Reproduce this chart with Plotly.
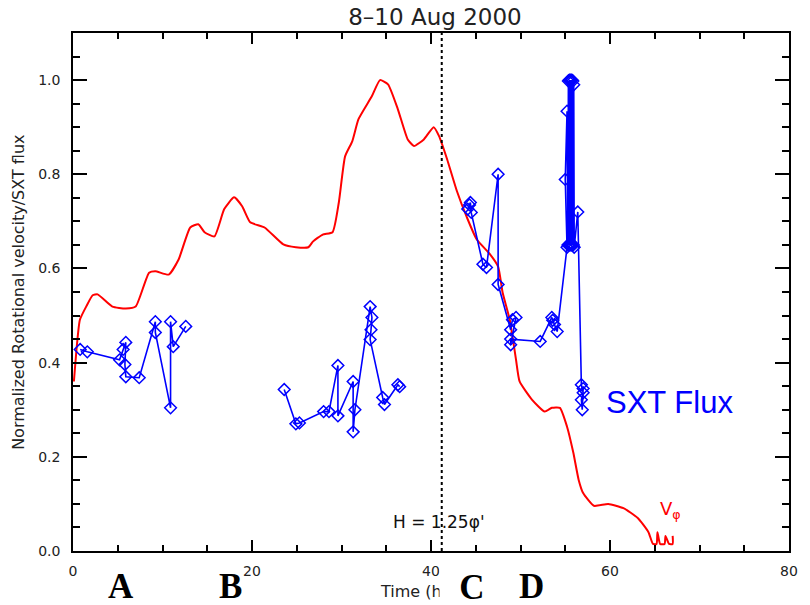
import plotly.graph_objects as go

# ---------------- data ----------------
# Normalized rotational velocity (V_phi), red curve
vphi_t = [0.1, 0.44, 0.77, 1.5, 2.2, 2.75, 4.4, 5.9, 7.0, 8.5, 9.2, 10.7, 11.8, 13.1, 14.0, 14.7,
          15.8, 16.9, 18.0, 18.9, 19.8, 21.4, 23.5, 24.9, 26.3, 26.8, 27.9, 29.0, 29.7, 30.4, 31.2,
          31.9, 33.4, 34.3, 35.2, 36.3, 37.4, 38.1, 39.2, 40.3, 40.9, 41.8, 42.9, 44.0, 45.1, 46.6,
          47.5, 48.0, 48.8, 49.5, 49.9, 51.3, 52.7, 53.5, 54.4, 55.2, 55.9, 56.5, 57.0, 58.2, 59.8,
          61.5, 63.1, 64.3, 64.8, 65.2, 65.3, 65.6, 66.1, 66.2, 66.6, 67.0, 67.0]
vphi_v = [0.36, 0.438, 0.491, 0.52, 0.543, 0.545, 0.519, 0.515, 0.519, 0.591, 0.594, 0.587, 0.619,
          0.687, 0.694, 0.677, 0.668, 0.726, 0.751, 0.732, 0.698, 0.687, 0.651, 0.645, 0.645, 0.657,
          0.672, 0.677, 0.740, 0.838, 0.870, 0.917, 0.966, 1.000, 0.991, 0.938, 0.874, 0.860, 0.874,
          0.900, 0.881, 0.832, 0.764, 0.709, 0.662, 0.630, 0.604, 0.549, 0.491, 0.406, 0.360, 0.321,
          0.296, 0.304, 0.304, 0.264, 0.209, 0.151, 0.123, 0.096, 0.100, 0.091, 0.070, 0.040, 0.015,
          0.015, 0.040, 0.015, 0.015, 0.032, 0.015, 0.015, 0.032]

# SXT flux, blue diamonds (three observing intervals)
sxt_t_a = [0.8, 1.6, 5.2, 5.6, 5.9, 5.8, 5.9, 7.4, 9.2, 9.2, 10.9, 10.9, 11.2, 12.6]
sxt_v_a = [0.428, 0.423, 0.406, 0.428, 0.443, 0.396, 0.370, 0.368, 0.487, 0.464, 0.304, 0.487,
           0.434, 0.477]
sxt_t_b = [23.6, 24.9, 25.3, 28.0, 28.6, 29.6, 29.6, 31.3, 31.3, 31.5, 33.2, 33.4, 33.3, 33.2,
           34.6, 34.8, 36.3, 36.5]
sxt_v_b = [0.343, 0.270, 0.272, 0.296, 0.296, 0.394, 0.287, 0.360, 0.253, 0.300, 0.519, 0.496,
           0.470, 0.449, 0.326, 0.311, 0.353, 0.349]
sxt_t_c = [44.1, 44.4, 44.5, 44.3, 45.8, 46.2, 47.5, 47.5, 48.9, 49.1, 49.5, 48.9, 48.9, 52.2,
           53.5, 53.8, 53.6, 54.1, 55.2, 55.0, 55.2, 55.3, 55.35, 55.4, 55.45, 55.5, 55.55, 55.6,
           55.65, 55.7, 55.75, 55.8, 55.85, 55.9, 55.95, 56.0, 56.4,
           56.8, 57.0, 56.8, 56.9, 57.0]
sxt_v_c = [0.726, 0.740, 0.719, 0.735, 0.609, 0.602, 0.800, 0.566, 0.470, 0.491, 0.496, 0.438,
           0.450, 0.445, 0.496, 0.481, 0.490, 0.466, 0.645, 0.789, 0.934, 0.650, 0.998, 0.650,
           1.000, 0.650, 1.000, 0.650, 1.000, 0.650, 1.000, 0.650, 0.998, 0.650, 0.990, 0.645,
           0.720, 0.353, 0.336, 0.321, 0.300, 0.345]

h_line_t = 41.2
x_ticks = [0, 20, 40, 60, 80]
y_ticks = [0.0, 0.2, 0.4, 0.6, 0.8, 1.0]
y_tick_text = ["0.0", "0.2", "0.4", "0.6", "0.8", "1.0"]
panel_letters = ["A", "B", "C", "D"]

# ---------------- figure ----------------
FONT = "DejaVu Sans"
sxt_t = sxt_t_a + [None] + sxt_t_b + [None] + sxt_t_c
sxt_v = sxt_v_a + [None] + sxt_v_b + [None] + sxt_v_c

fig = go.Figure()
fig.add_trace(go.Scatter(x=vphi_t, y=vphi_v, mode="lines",
                         line=dict(color="#ff0000", width=2, shape="spline", smoothing=0.5),
                         showlegend=False))
fig.add_trace(go.Scatter(x=sxt_t, y=sxt_v, mode="lines+markers",
                         line=dict(color="#0000ff", width=1.6),
                         marker=dict(symbol="diamond-open", size=9, color="#0000ff",
                                     line=dict(width=1.5, color="#0000ff")),
                         connectgaps=False, showlegend=False))

fig.add_shape(type="line", xref="x", yref="paper", x0=h_line_t, x1=h_line_t, y0=0, y1=1,
              line=dict(color="black", width=2, dash="dot"))

ax_common = dict(showline=True, linecolor="black", linewidth=1.5, mirror="ticks",
                 ticks="inside", tickcolor="black", tickwidth=1.5, showgrid=False,
                 zeroline=False, tickfont=dict(family=FONT, size=14, color="#222"))
fig.update_xaxes(range=[0, 80], tickvals=x_ticks, ticklen=11, ticklabelstandoff=6,
                 minor=dict(dtick=5, ticklen=6, ticks="inside", tickcolor="black", tickwidth=1.5),
                 **ax_common)
fig.update_yaxes(range=[0, 1.1], tickvals=y_ticks, ticktext=y_tick_text, ticklen=14,
                 ticklabelstandoff=8,
                 minor=dict(dtick=0.05, ticklen=7, ticks="inside", tickcolor="black", tickwidth=1.5),
                 **ax_common)

ann = []
# axis titles
ann.append(dict(text="Time (hours)", xref="paper", yref="paper", x=0.5, y=-0.079,
                xanchor="center", yanchor="middle", showarrow=False,
                font=dict(family=FONT, size=16, color="#222")))
ann.append(dict(text="Normalized Rotational velocity/SXT flux", xref="paper", yref="paper",
                x=-0.077, y=0.5, textangle=-90, xanchor="center", yanchor="middle",
                showarrow=False, font=dict(family=FONT, size=16, color="#222")))
# in-plot labels
ann.append(dict(text="SXT Flux", xref="paper", yref="paper", x=0.7417, y=0.2876,
                xanchor="left", yanchor="middle", showarrow=False,
                font=dict(family="Liberation Sans", size=31, color="#0000ff")))
ann.append(dict(text="V<sub>φ</sub>", xref="paper", yref="paper", x=0.834, y=0.08,
                xanchor="center", yanchor="middle", showarrow=False,
                font=dict(family=FONT, size=18, color="#ff0000")))
ann.append(dict(text="H = 1.25φ'", xref="paper", yref="paper", x=0.4448, y=0.056,
                xanchor="left", yanchor="middle", showarrow=False,
                font=dict(family=FONT, size=17, color="#111")))
# panel letters
letter_x = [0.0677, 0.2196, 0.5566, 0.641]
for i, (lx, lt) in enumerate(zip(letter_x, panel_letters)):
    d = dict(text="<b>%s</b>" % lt, xref="paper", yref="paper", x=lx, y=-0.069,
             xanchor="center", yanchor="middle", showarrow=False,
             font=dict(family="Liberation Serif", size=35, color="black"))
    if lt == "C":
        d.update(bgcolor="white", width=62, height=44)
    ann.append(d)

fig.update_layout(
    width=810, height=605,
    margin=dict(l=73, r=13, t=33, b=54),
    paper_bgcolor="white", plot_bgcolor="white",
    title=dict(text="8–10 Aug 2000", x=0.537, xanchor="center", y=0.972, yanchor="middle",
               font=dict(family=FONT, size=23, color="#222")),
    annotations=ann,
)

fig.write_html("out.html")
